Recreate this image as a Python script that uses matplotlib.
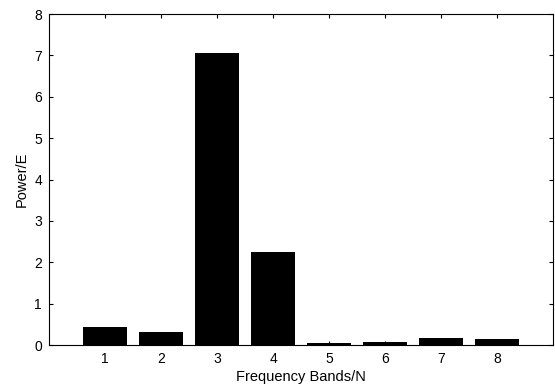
import matplotlib
matplotlib.use('Agg')
import matplotlib.pyplot as plt

bands = [1, 2, 3, 4, 5, 6, 7, 8]
power = [0.43, 0.32, 7.05, 2.25, 0.06, 0.08, 0.18, 0.145]

plt.rcParams['font.family'] = ['Liberation Sans', 'DejaVu Sans']

fig = plt.figure(figsize=(5.55, 3.87), dpi=100)
ax = fig.add_axes([0.0883, 0.1085, 0.9081, 0.8553])
ax.bar(bands, power, width=0.8, color='black')
ax.set_xlim(0, 9)
ax.set_ylim(0, 8)
ax.set_xticks(bands)
ax.set_yticks(range(0, 9))
ax.tick_params(direction='in', top=True, right=True, labelsize=10, length=3, pad=5)
ax.set_xlabel('Frequency Bands/N', fontsize=10.5, labelpad=3)
ax.set_ylabel('Power/E', fontsize=10.5, labelpad=4)
for s in ax.spines.values():
    s.set_linewidth(0.8)
fig.savefig('out.png', dpi=100)
